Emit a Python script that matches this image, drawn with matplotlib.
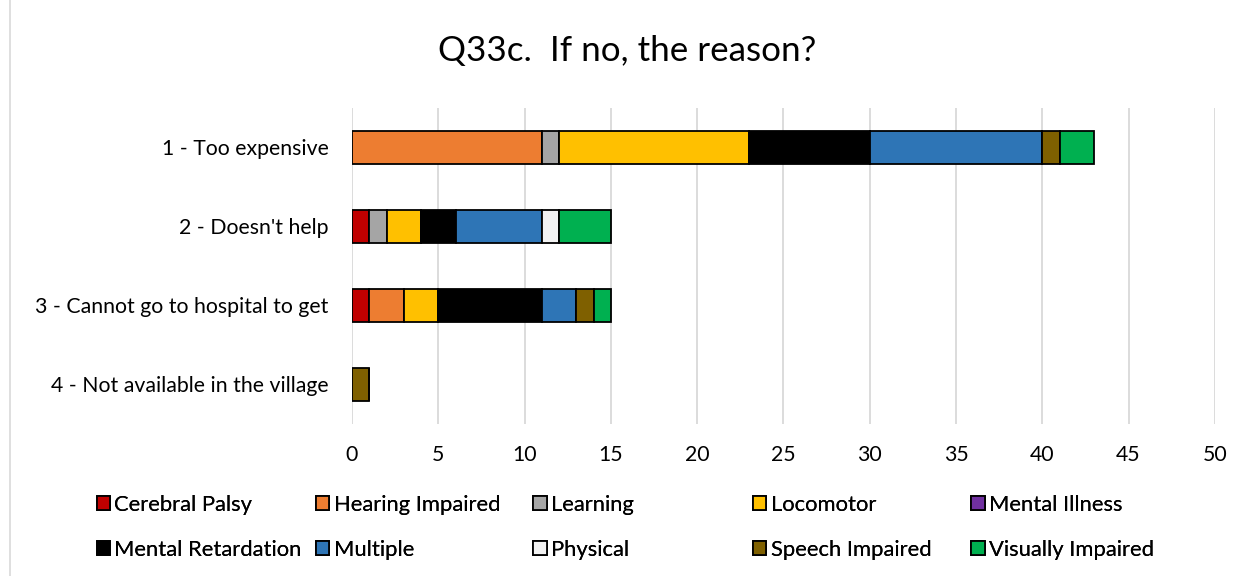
import matplotlib.pyplot as plt
import numpy as np
from matplotlib.patches import Rectangle

plt.rcParams["font.family"] = ["Lato", "DejaVu Sans"]

categories = [
    "1 - Too expensive",
    "2 - Doesn't help",
    "3 - Cannot go to hospital to get",
    "4 - Not available in the village",
]

series_names = [
    "Cerebral Palsy", "Hearing Impaired", "Learning", "Locomotor", "Mental Illness",
    "Mental Retardation", "Multiple", "Physical", "Speech Impaired", "Visually Impaired",
]
colors = [
    "#C00000", "#ED7D31", "#A5A5A5", "#FFC000", "#7030A0",
    "#000000", "#2E75B6", "#F2F2F2", "#7F6000", "#00B050",
]

# values per series, one entry per category (same order as categories)
cerebral_palsy = [0, 1, 1, 0]
hearing_impaired = [11, 0, 2, 0]
learning = [1, 1, 0, 0]
locomotor = [11, 2, 2, 0]
mental_illness = [0, 0, 0, 0]
mental_retardation = [7, 2, 6, 0]
multiple = [10, 5, 2, 0]
physical = [0, 1, 0, 0]
speech_impaired = [1, 0, 1, 1]
visually_impaired = [2, 3, 1, 0]

series_values = [
    cerebral_palsy, hearing_impaired, learning, locomotor, mental_illness,
    mental_retardation, multiple, physical, speech_impaired, visually_impaired,
]

fig = plt.figure(figsize=(12.55, 5.76), dpi=100)
ax = fig.add_axes([0.2805, 0.264, 0.6875, 0.549])

y = np.arange(len(categories))
left = np.zeros(len(categories))
handles = []
for name, vals, col in zip(series_names, series_values, colors):
    vals = np.array(vals, dtype=float)
    h = ax.barh(y, vals, left=left, height=0.42, color=col,
                edgecolor="black", linewidth=1.3, label=name, zorder=3)
    handles.append(h)
    left += vals

ax.set_ylim(3.5, -0.5)
ax.set_xlim(0, 50)
ax.set_xticks(range(0, 51, 5))
ax.set_yticks(y)
ax.set_yticklabels(categories, fontsize=15.3)
ax.tick_params(axis="x", labelsize=15.3, length=0, pad=15)
ax.tick_params(axis="y", length=0, pad=17)
ax.grid(axis="x", color="#D9D9D9", linewidth=1.3, zorder=0)
for s in ax.spines.values():
    s.set_visible(False)

fig.text(0.5, 0.912, "Q33c.  If no, the reason?", ha="center", va="center", fontsize=25.2)

# legend laid out row by row, five equal columns like the original
col_x = [0.077, 0.252, 0.425, 0.6, 0.774]
row_y = [0.123, 0.045]
for i, (h, name) in enumerate(zip(handles, series_names)):
    leg = fig.legend(handles=[h], labels=[name], loc="center left",
                     bbox_to_anchor=(col_x[i % 5], row_y[i // 5]), frameon=False,
                     fontsize=15.8, handlelength=0.6, handleheight=0.6,
                     handletextpad=0.2, borderpad=0, borderaxespad=0)
    fig.add_artist(leg)

fig.patches.append(Rectangle((0.008, -0.01), 1.5, 1.5, transform=fig.transFigure,
                             fill=False, edgecolor="#D9D9D9", linewidth=1.2))

fig.savefig("out.png", dpi=100)
